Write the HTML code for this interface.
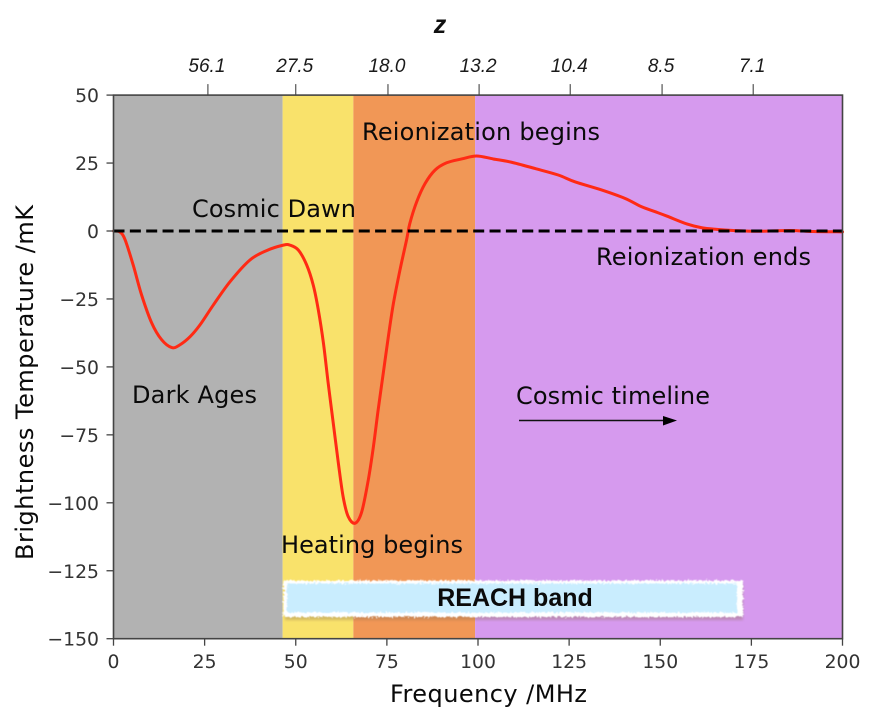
<!DOCTYPE html>
<html>
<head>
<meta charset="utf-8">
<title>Global 21-cm signal</title>
<style>
html,body{margin:0;padding:0;background:#fff;}
svg{display:block;}
text{font-family:"DejaVu Sans",sans-serif;}
.tick{font-size:18.8px;fill:#333;}
.ann{font-size:24px;fill:#0a0a0a;}
.top{font-family:"Liberation Sans",sans-serif;font-style:italic;font-size:19px;fill:#1a1a1a;}
</style>
</head>
<body>
<svg id="chart" width="877" height="715" viewBox="0 0 877 715" xmlns="http://www.w3.org/2000/svg">
<defs>
<filter id="rough" x="-5%" y="-30%" width="110%" height="160%">
<feTurbulence type="fractalNoise" baseFrequency="0.5" numOctaves="2" seed="7" result="n"/>
<feDisplacementMap in="SourceGraphic" in2="n" scale="5" xChannelSelector="R" yChannelSelector="G"/>
<feGaussianBlur stdDeviation="0.4"/>
</filter>
<filter id="soft" x="-5%" y="-30%" width="110%" height="160%">
<feGaussianBlur stdDeviation="1.2"/>
</filter>
</defs>
<g id="regions"></g>
<g id="curve-layer"></g>
<g id="axes"></g>
<g id="labels">
<text class="ann" x="362" y="140" textLength="238">Reionization begins</text>
<text class="ann" x="192" y="217" textLength="164">Cosmic Dawn</text>
<text class="ann" x="596" y="265" textLength="215">Reionization ends</text>
<text class="ann" x="132" y="403" textLength="125">Dark Ages</text>
<text class="ann" x="516" y="404" textLength="194">Cosmic timeline</text>
<text class="ann" x="281" y="553" textLength="182">Heating begins</text>
<line x1="519" y1="420.5" x2="666" y2="420.5" stroke="#111" stroke-width="1.6"/>
<polygon points="663,416 677,420.5 663,425.5" fill="#000"/>
<g>
<rect x="285" y="584" width="458" height="36" fill="#8a6a50" opacity="0.35" filter="url(#soft)"/>
<rect x="283.5" y="580.5" width="459.5" height="36.5" fill="#fff" filter="url(#rough)"/>
<rect x="287" y="583.5" width="450" height="29" fill="#c9edfe" filter="url(#rough)"/>
<text x="515" y="606" text-anchor="middle" style="font-family:'Liberation Sans',sans-serif;font-weight:bold;font-size:25px;fill:#0a0a0a;">REACH band</text>
</g>
<text class="ann" x="390" y="702" textLength="197">Frequency /MHz</text>
<text class="ann" transform="translate(33,560) rotate(-90)" x="0" y="0" textLength="355">Brightness Temperature /mK</text>
<text x="440" y="33" text-anchor="middle" style="font-family:'Liberation Sans',sans-serif;font-style:italic;font-weight:bold;font-size:25px;fill:#111;">z</text>
</g>
</svg>
<script>
// Chart data
const curveFreq = [0,1.8,3.2,5.4,7.7,10.5,13.2,16,18.2,21,23.7,27.4,32,37.4,42,46.6,48.4,50.7,53,54.8,56.2,57.6,58.9,60.3,61.7,63,64.4,66.3,68.1,69.9,71.3,72.6,74,75.4,76.8,78.6,80.4,81.3,83.2,85.5,88.2,91.4,95.5,99.6,104.2,109.2,115.6,122,126.6,133.9,140.3,144.9,148.6,151.8,157.3,161.4,165.5,170,176.5,185.6,192,200];
const curveTemp = [0,-0.4,-3.3,-12.5,-23.5,-33.9,-40,-42.9,-41.9,-38.9,-34.6,-27.2,-18.6,-10.7,-7.2,-5.2,-5.2,-7,-12.5,-19.9,-29.1,-41.3,-56,-70.8,-85.5,-97.8,-105.1,-107.5,-103.3,-91.6,-79.4,-65.9,-52.4,-38.9,-26.6,-14.3,-3.3,2.8,10.8,17.5,22.4,25.1,26.5,27.6,26.5,25.3,23,20.6,18.1,15.1,12,8.9,7.1,5.5,2.6,1.2,0.6,0.2,-0.1,0.2,-0.2,-0.3];
const xTicks = [0,25,50,75,100,125,150,175,200];
const yTicks = [50,25,0,-25,-50,-75,-100,-125,-150];
const topTickFreq = [25.9,50,75.3,100.3,125.3,150.5,175.5];
const topTickLabels = ['56.1','27.5','18.0','13.2','10.4','8.5','7.1'];
const regionNames = ['dark-ages-region','cosmic-dawn-region','heating-region','reionization-region'];
const regionEdges = [0,46.4,65.8,99.2,200];
const regionColors = ['#b2b2b2','#f9e26b','#f19756','#d69aee'];
const referenceLevel = [0];

const NS = 'http://www.w3.org/2000/svg';
const X = f => 113.5 + f * 3.645;
const Y = t => 231 - t * 2.718;
function make(tag, attrs, parent){
  const el = document.createElementNS(NS, tag);
  for (const k in attrs) el.setAttribute(k, attrs[k]);
  parent.appendChild(el);
  return el;
}
const regionsG = document.getElementById('regions');
regionColors.forEach((c,i)=>{
  const r = make('rect',{x:X(regionEdges[i]),y:Y(50),width:X(regionEdges[i+1])-X(regionEdges[i]),height:Y(-150)-Y(50),fill:c},regionsG);
  
  
});

// Smooth curve through the data points
const pts = curveFreq.map((f,i)=>[X(f),Y(curveTemp[i])]);
let d = 'M' + pts[0][0] + ' ' + pts[0][1];
for (let i=0;i<pts.length-1;i++){
  const p0=pts[Math.max(i-1,0)],p1=pts[i],p2=pts[i+1],p3=pts[Math.min(i+2,pts.length-1)];
  const c1x=p1[0]+(p2[0]-p0[0])/6,c1y=p1[1]+(p2[1]-p0[1])/6;
  const c2x=p2[0]-(p3[0]-p1[0])/6,c2y=p2[1]-(p3[1]-p1[1])/6;
  d += ' C'+c1x+' '+c1y+' '+c2x+' '+c2y+' '+p2[0]+' '+p2[1];
}
const curveG = document.getElementById('curve-layer');
const curve = make('path',{d:d,fill:'none',stroke:'#ff2a14','stroke-width':3,'stroke-linejoin':'round','stroke-linecap':'round'},curveG);


const zero = make('line',{x1:X(0),x2:X(200),y1:Y(referenceLevel[0]),y2:Y(referenceLevel[0]),stroke:'#000','stroke-width':3,'stroke-dasharray':'11 5.35'},curveG);



const axesG = document.getElementById('axes');
const frame = make('rect',{x:X(0),y:Y(50),width:X(200)-X(0),height:Y(-150)-Y(50),fill:'none',stroke:'#444','stroke-width':1.6},axesG);



xTicks.forEach(v=>{
  const t = make('line',{x1:X(v),x2:X(v),y1:Y(-150),y2:Y(-150)+7,stroke:'#444','stroke-width':1.3},axesG);
  
  
  const l = make('text',{x:X(v),y:668,'text-anchor':'middle',class:'tick'},axesG);
  l.textContent = v;
  
  
});
yTicks.forEach(v=>{
  const t = make('line',{x1:X(0)-7,x2:X(0),y1:Y(v),y2:Y(v),stroke:'#444','stroke-width':1.3},axesG);
  
  
  const l = make('text',{x:99,y:Y(v)+7,'text-anchor':'end',class:'tick'},axesG);
  l.textContent = (v<0?'\u2212':'') + Math.abs(v);
  
  
});
topTickFreq.forEach((f,i)=>{
  const t = make('line',{x1:X(f),x2:X(f),y1:Y(50)-11,y2:Y(50),stroke:'#444','stroke-width':1.1},axesG);
  
  
  const l = make('text',{x:X(f)-1,y:72,'text-anchor':'middle',class:'top'},axesG);
  l.textContent = topTickLabels[i];
  
  
});
</script>
</body>
</html>
